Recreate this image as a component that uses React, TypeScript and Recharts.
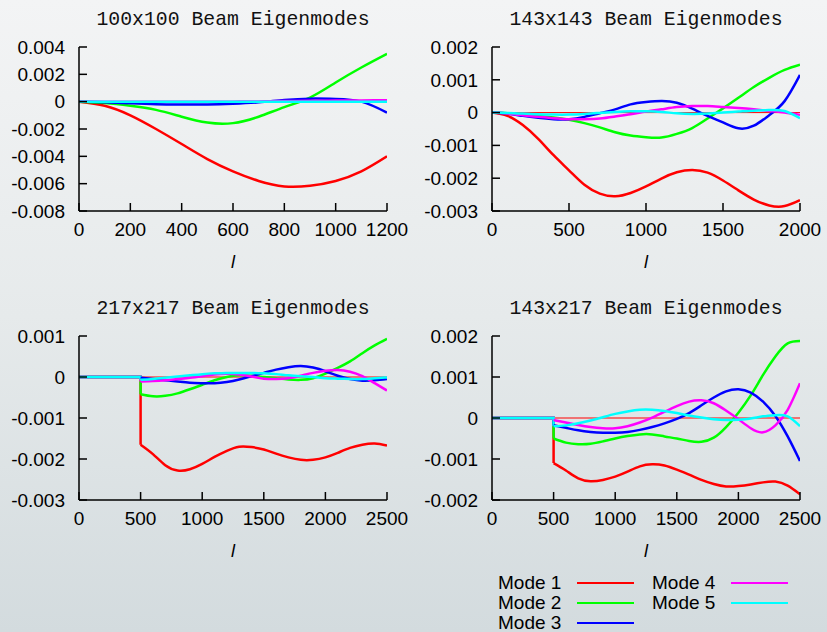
import { LineChart, Line, XAxis, YAxis, ReferenceLine } from "recharts"

const MODE_NAMES = ["Mode 1", "Mode 2", "Mode 3", "Mode 4", "Mode 5"]
const MODE_COLORS = ["#ff0000", "#00ff00", "#0000ff", "#ff00ff", "#00ffff"]

// 100x100
const L_100 = [0, 100, 200, 300, 400, 500, 600, 700, 800, 900, 1000, 1100, 1200]
const M1_100 = [0, -0.0003, -0.001, -0.002, -0.0031, -0.0042, -0.0051, -0.0058, -0.0062, -0.00615, -0.0058, -0.0051, -0.004]
const M2_100 = [0, -0.0001, -0.0003, -0.0006, -0.0011, -0.00153, -0.00157, -0.0011, -0.0004, 0.0003, 0.0014, 0.0025, 0.0035]
const M3_100 = [0, -0.00005, -0.00012, -0.00018, -0.0002, -0.0002, -0.00015, -0.00005, 0.00012, 0.00022, 0.0002, 0, -0.0008]
const M4_100 = [0, 0, 0, 0, 0, 0, 0, 0.00002, 0.00004, 0.00006, 0.00008, 0.00009, 0.0001]
const M5_100 = [0, 0, 0, 0, 0, 0, 0, 0, 0, 0, 0, 0, 0]

// 143x143
const L_143 = [0, 100, 200, 300, 400, 500, 600, 700, 800, 900, 1000, 1100, 1200, 1300, 1400, 1500, 1600, 1700, 1800, 1900, 2000]
const M1_143 = [0, -0.0001, -0.00038, -0.0008, -0.0013, -0.00176, -0.0022, -0.00247, -0.00255, -0.00245, -0.00225, -0.00201, -0.00182, -0.00175, -0.00183, -0.00207, -0.00237, -0.00265, -0.00283, -0.00285, -0.00267]
const M2_143 = [0, -0.00002, -0.00006, -0.0001, -0.00015, -0.00022, -0.00032, -0.00045, -0.0006, -0.0007, -0.00075, -0.00076, -0.00065, -0.00047, -0.00018, 0.00013, 0.00045, 0.00078, 0.00106, 0.0013, 0.00146]
const M3_143 = [0, -0.00003, -0.0001, -0.00016, -0.0002, -0.0002, -0.00013, -0.00002, 0.0001, 0.00025, 0.00032, 0.00035, 0.0003, 0.00012, -0.0001, -0.0003, -0.00048, -0.0004, -0.00008, 0.00035, 0.00115]
const M4_143 = [0, -0.00003, -0.00008, -0.00013, -0.00017, -0.0002, -0.0002, -0.00018, -0.00012, -0.00005, 0.00003, 0.0001, 0.00017, 0.0002, 0.0002, 0.00017, 0.00014, 0.0001, 0.00005, 0, -0.00007]
const M5_143 = [0, -0.00001, -0.00003, -0.00005, -0.00006, -0.00006, -0.00004, -0.00001, 0.00002, 0.00004, 0.00004, 0.00002, -0.00002, -0.00004, -0.00003, 0, 0.00003, 0.00006, 0.00008, 0.00005, -0.00017]

// 217x217 (modes switch on at l = 500, hence the repeated 500)
const L_217 = [0, 500, 500, 600, 700, 800, 900, 1000, 1100, 1200, 1300, 1400, 1500, 1600, 1700, 1800, 1900, 2000, 2100, 2200, 2300, 2400, 2500]
const M1_217 = [0, 0, -0.00165, -0.00188, -0.00215, -0.00228, -0.00225, -0.00212, -0.00195, -0.0018, -0.0017, -0.00171, -0.00177, -0.00187, -0.00196, -0.00202, -0.00202, -0.00196, -0.00185, -0.00173, -0.00165, -0.00162, -0.00167]
const M2_217 = [0, 0, -0.00042, -0.00047, -0.00046, -0.0004, -0.0003, -0.00019, -0.00008, 0, 0.00004, 0.00003, 0, -0.00003, -0.00006, -0.00007, -0.00003, 0.00008, 0.00022, 0.00038, 0.00058, 0.00077, 0.00093]
const M3_217 = [0, 0, -0.00002, -0.00005, -0.00008, -0.00011, -0.00014, -0.00015, -0.00015, -0.00012, -0.00006, 0.00002, 0.0001, 0.00018, 0.00024, 0.00027, 0.00023, 0.00014, 0.00003, -0.00005, -0.00009, -0.00008, -0.00005]
const M4_217 = [0, 0, -0.00011, -0.0001, -0.00008, -0.00005, -0.00002, 0.00002, 0.00006, 0.00008, 0.00006, 0.00001, -0.00004, -0.00005, -0.00003, 0.00003, 0.0001, 0.00015, 0.00017, 0.00013, 0.00002, -0.00015, -0.00033]
const M5_217 = [0, 0, -0.00007, -0.00005, -0.00002, 0.00001, 0.00004, 0.00007, 0.00009, 0.0001, 0.0001, 0.0001, 0.00009, 0.00007, 0.00004, 0.00002, 0, -0.00003, -0.00004, -0.00005, -0.00005, -0.00003, -0.00001]

// 143x217
const L_143x217 = [0, 500, 500, 600, 700, 800, 900, 1000, 1100, 1200, 1300, 1400, 1500, 1600, 1700, 1800, 1900, 2000, 2100, 2200, 2300, 2400, 2500]
const M1_143x217 = [0, 0, -0.0011, -0.00128, -0.00147, -0.00154, -0.00151, -0.00143, -0.00131, -0.00118, -0.00113, -0.00116, -0.00126, -0.00138, -0.00151, -0.00161, -0.00167, -0.00166, -0.00162, -0.00157, -0.00155, -0.00165, -0.00186]
const M2_143x217 = [0, 0, -0.0005, -0.0006, -0.00064, -0.00063, -0.00057, -0.0005, -0.00044, -0.0004, -0.0004, -0.00045, -0.0005, -0.00056, -0.00058, -0.00048, -0.00022, 0.00013, 0.00055, 0.00105, 0.0015, 0.00182, 0.00188]
const M3_143x217 = [0, 0, -0.00018, -0.00024, -0.0003, -0.00034, -0.00036, -0.00036, -0.00034, -0.00029, -0.00022, -0.00013, -0.00002, 0.00012, 0.00031, 0.0005, 0.00065, 0.0007, 0.00062, 0.0004, 0.00005, -0.00045, -0.00105]
const M4_143x217 = [0, 0, -0.00005, -0.00011, -0.00017, -0.00022, -0.00025, -0.00025, -0.0002, -0.00011, 0.00001, 0.00015, 0.00029, 0.0004, 0.00043, 0.00036, 0.00018, -0.00003, -0.00025, -0.00035, -0.00018, 0.0002, 0.00085]
const M5_143x217 = [0, 0, -0.0002, -0.00018, -0.00013, -0.00006, 0.00002, 0.0001, 0.00016, 0.0002, 0.0002, 0.00017, 0.00012, 0.00006, 0.00001, -0.00003, -0.00005, -0.00004, -0.00001, 0.00004, 0.00007, 0.00004, -0.0002]

const X_TICKS_1200 = [0, 200, 400, 600, 800, 1000, 1200]
const X_TICKS_2000 = [0, 500, 1000, 1500, 2000]
const X_TICKS_2500 = [0, 500, 1000, 1500, 2000, 2500]
const Y_TICKS_100 = [-0.008, -0.006, -0.004, -0.002, 0, 0.002, 0.004]
const Y_TICKS_143 = [-0.003, -0.002, -0.001, 0, 0.001, 0.002]
const Y_TICKS_217 = [-0.003, -0.002, -0.001, 0, 0.001]
const Y_TICKS_143x217 = [-0.002, -0.001, 0, 0.001, 0.002]

const PANELS = [
  { title: "100x100 Beam Eigenmodes", l: L_100, modes: [M1_100, M2_100, M3_100, M4_100, M5_100], xTicks: X_TICKS_1200, yTicks: Y_TICKS_100, zeroLine: false, left: 0, top: 0 },
  { title: "143x143 Beam Eigenmodes", l: L_143, modes: [M1_143, M2_143, M3_143, M4_143, M5_143], xTicks: X_TICKS_2000, yTicks: Y_TICKS_143, zeroLine: true, left: 413, top: 0 },
  { title: "217x217 Beam Eigenmodes", l: L_217, modes: [M1_217, M2_217, M3_217, M4_217, M5_217], xTicks: X_TICKS_2500, yTicks: Y_TICKS_217, zeroLine: true, left: 0, top: 289 },
  { title: "143x217 Beam Eigenmodes", l: L_143x217, modes: [M1_143x217, M2_143x217, M3_143x217, M4_143x217, M5_143x217], xTicks: X_TICKS_2500, yTicks: Y_TICKS_143x217, zeroLine: true, left: 413, top: 289 },
]

const tickFont = { fontFamily: "'Liberation Sans', Arial, sans-serif", fontSize: 19, fill: "#000" }
const frame = { stroke: "#000", strokeWidth: 1.5 }
const fmtY = (v: number) => (v === 0 ? "0" : v.toFixed(3))
const blank = () => ""

type PanelProps = (typeof PANELS)[number]

function Panel({ title, l, modes, xTicks, yTicks, zeroLine, left, top }: PanelProps) {
  // a repeated l marks the switch-on step: the flat part before it goes in
  // its own linear series, the rest is drawn as a smooth spline
  const jump = l.findIndex((x, i) => i > 0 && x === l[i - 1])
  const rows = l.map((x, i) => {
    const row: Record<string, number | null> = { l: x }
    modes.forEach((m, k) => {
      row[`m${k + 1}`] = jump < 0 || i >= jump ? m[i] : null
      if (jump >= 0) row[`p${k + 1}`] = i <= jump ? m[i] : null
    })
    return row
  })
  const xDomain = [xTicks[0], xTicks[xTicks.length - 1]]
  const yDomain = [yTicks[0], yTicks[yTicks.length - 1]]

  return (
    <div style={{ position: "absolute", left, top, width: 413, height: 290 }}>
      <div
        style={{
          position: "absolute", left: 79, top: 10, width: 308, textAlign: "center",
          fontFamily: "'Liberation Mono', 'Courier New', monospace", fontSize: 19.8, lineHeight: "20px", color: "#111",
        }}
      >
        {title}
      </div>
      <LineChart width={413} height={240} data={rows} margin={{ top: 47, right: 26, bottom: 0, left: 0 }}>
        <XAxis
          dataKey="l" type="number" domain={xDomain} ticks={xTicks} interval={0} allowDataOverflow
          height={29} tickSize={-8} tickMargin={20} tick={tickFont} axisLine={frame} tickLine={frame}
        />
        <XAxis
          xAxisId="top" orientation="top" mirror height={0} type="number" domain={xDomain} ticks={xTicks}
          interval={0} allowDataOverflow tickSize={8} tickFormatter={blank} axisLine={frame} tickLine={frame}
        />
        <YAxis
          type="number" domain={yDomain} ticks={yTicks} interval={0} allowDataOverflow width={79}
          tickSize={-8} tickMargin={22} tick={tickFont} tickFormatter={fmtY} axisLine={frame} tickLine={frame}
        />
        <YAxis
          yAxisId="right" orientation="right" mirror width={0} type="number" domain={yDomain} ticks={yTicks}
          interval={0} allowDataOverflow tickSize={8} tickFormatter={blank} axisLine={frame} tickLine={frame}
        />
        {zeroLine && <ReferenceLine y={0} stroke="#ff0000" strokeWidth={1} />}
        {jump >= 0 &&
          MODE_NAMES.map((name, k) => (
            <Line
              key={`pre-${name}`} type="linear" dataKey={`p${k + 1}`} stroke={MODE_COLORS[k]}
              strokeWidth={2.5} dot={false} isAnimationActive={false} legendType="none"
            />
          ))}
        {MODE_NAMES.map((name, k) => (
          <Line
            key={name} name={name} type="natural" dataKey={`m${k + 1}`} stroke={MODE_COLORS[k]}
            strokeWidth={2.5} dot={false} isAnimationActive={false}
          />
        ))}
      </LineChart>
      <div
        style={{
          position: "absolute", left: 79, top: 252, width: 308, textAlign: "center",
          fontFamily: "'Liberation Sans', Arial, sans-serif", fontStyle: "italic", fontSize: 18, lineHeight: "20px",
        }}
      >
        l
      </div>
    </div>
  )
}

function ModeLegend() {
  // gnuplot-style key: two columns, label then line sample
  const cols = [[0, 1, 2], [3, 4]]
  return (
    <div style={{ position: "absolute", left: 498, top: 575 }}>
      {cols.map((col, c) => (
        <div key={c} style={{ position: "absolute", left: c * 154, top: 0 }}>
          {col.map((k, r) => (
            <div
              key={k}
              style={{
                position: "absolute", top: r * 20, left: 0, height: 16, width: 140, whiteSpace: "nowrap",
                fontFamily: "'Liberation Sans', Arial, sans-serif", fontSize: 19, lineHeight: "16px", color: "#000",
              }}
            >
              {MODE_NAMES[k]}
              <span
                style={{
                  position: "absolute", left: 79, top: 7, width: 57, height: 2, background: MODE_COLORS[k],
                }}
              />
            </div>
          ))}
        </div>
      ))}
    </div>
  )
}

export default function App() {
  return (
    <div
      style={{
        position: "absolute", left: 0, top: 0, width: 827, height: 632, overflow: "hidden",
        background: "linear-gradient(180deg, #f3f4f5 0%, #e6eaeb 50%, #d3dbde 100%)",
      }}
    >
      {PANELS.map((p) => (
        <Panel key={p.title} {...p} />
      ))}
      <ModeLegend />
    </div>
  )
}
